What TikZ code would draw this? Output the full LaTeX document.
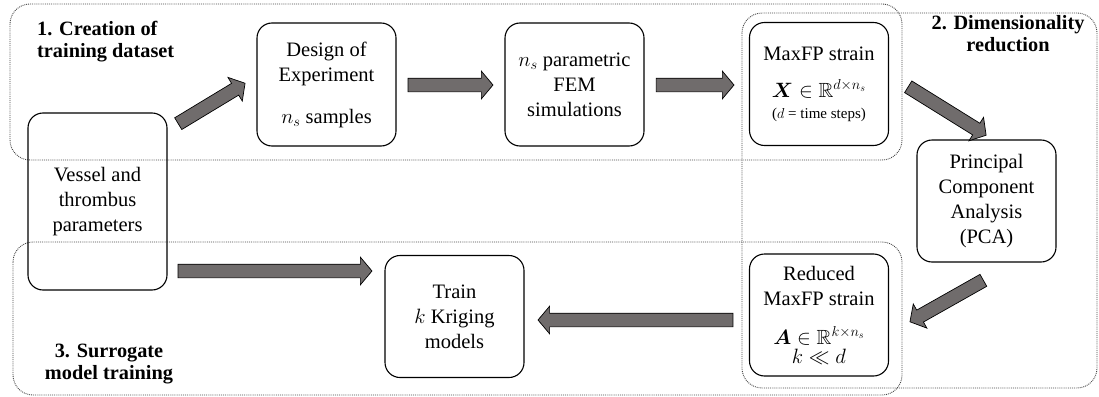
\documentclass[tikz,border=0pt]{standalone}
\usepackage{amsmath,amssymb,bm}
\usepackage{fontspec}
\setmainfont{Liberation Serif}
\newfontfamily\timesfont{Liberation Serif}
\usetikzlibrary{shapes.arrows,calc}
\definecolor{arrowgray}{RGB}{112,108,108}
\definecolor{regiongray}{RGB}{70,70,70}
\newcommand\fatarrow[2]{\path let \p1=#1, \p2=#2, \n1={veclen(\x2-\x1,\y2-\y1)} in (\p1) -- node[fat,sloped,allow upside down,pos=1,anchor=tip,minimum height=\n1]{} (\p2);}
\begin{document}
\begin{tikzpicture}[x=1pt,y=-1pt,
  box/.style={draw=black, line width=1.1pt, rounded corners=15pt, minimum width=139pt, minimum height=123pt, inner sep=0pt, align=center, font=\timesfont\fontsize{20.5}{25}\selectfont},
  region/.style={draw=regiongray, densely dotted, line width=0.9pt, rounded corners=20pt},
  heading/.style={inner sep=0pt, font=\timesfont\fontsize{20.3}{22}\selectfont\bfseries},
  fat/.style={single arrow, single arrow head extend=7pt, single arrow tip angle=100, minimum width=27pt, inner xsep=0pt, inner ysep=6.5pt, draw=black, line width=0.7pt, fill=arrowgray}]
\useasboundingbox (0,0) rectangle (1099,396);
% regions
\draw[region] (10,4) rectangle (902,160);
\draw[region] (742,13) rectangle (1097,388);
\draw[region] (13,242) rectangle (902,395);
% headings
\node[heading, anchor=west, align=left] (h1) at (37,42) {1. Creation of\\training dataset};
\node[heading, align=center] (h2) at (1008,34) {2. Dimensionality\\reduction};
\node[heading, align=center] (h3) at (109,364) {3. Surrogate\\model training};
% boxes
\node[box, minimum height=177pt] (vessel) at (97.5,201.5) {Vessel and\\thrombus\\parameters};
\node[box] (doe) at (326.5,84.5) {Design of\\Experiment\\[17pt]$n_s$ samples};
\node[box] (fem) at (574.5,84.5) {$n_s$ parametric\\FEM\\simulations};
\node[box] (maxfp) at (819,84) {MaxFP strain\\[12pt]$\bm{X}\in\mathbb{R}^{d\times n_s}$\\[-4pt]{\fontsize{15}{17}\selectfont ($d$ = time steps)}};
\node[box, minimum height=122pt] (pca) at (986.5,201) {Principal\\Component\\Analysis\\(PCA)};
\node[box, minimum height=122pt] (reduced) at (819,315) {Reduced\\MaxFP strain\\[14pt]$\bm{A}\in\mathbb{R}^{k\times n_s}$\\[-6pt]$k\ll d$};
\node[box, minimum height=122pt] (train) at (454.5,316.5) {Train\\$k$ Kriging\\models};
% arrows
\fatarrow{($(vessel.north east)+(11,11)$)}{($(doe.west)+(-11,-1.5)$)}
\fatarrow{($(doe.east)+(12,0.5)$)}{($(fem.west)+(-11,0.5)$)}
\fatarrow{($(fem.east)+(12,0.5)$)}{($(maxfp.west)+(-14.5,1)$)}
\fatarrow{($(maxfp.east)+(19.5,3)$)}{($(pca.north)+(0,-4)$)}
\fatarrow{($(pca.south)+(-3.5,18)$)}{($(reduced.east)+(20.5,7)$)}
\fatarrow{($(reduced.west)+(-16.5,5)$)}{($(train.east)+(13,3.5)$)}
\fatarrow{($(vessel.east)+(11,69.5)$)}{($(train.west)+(-12,-45.5)$)}
\end{tikzpicture}
\end{document}
